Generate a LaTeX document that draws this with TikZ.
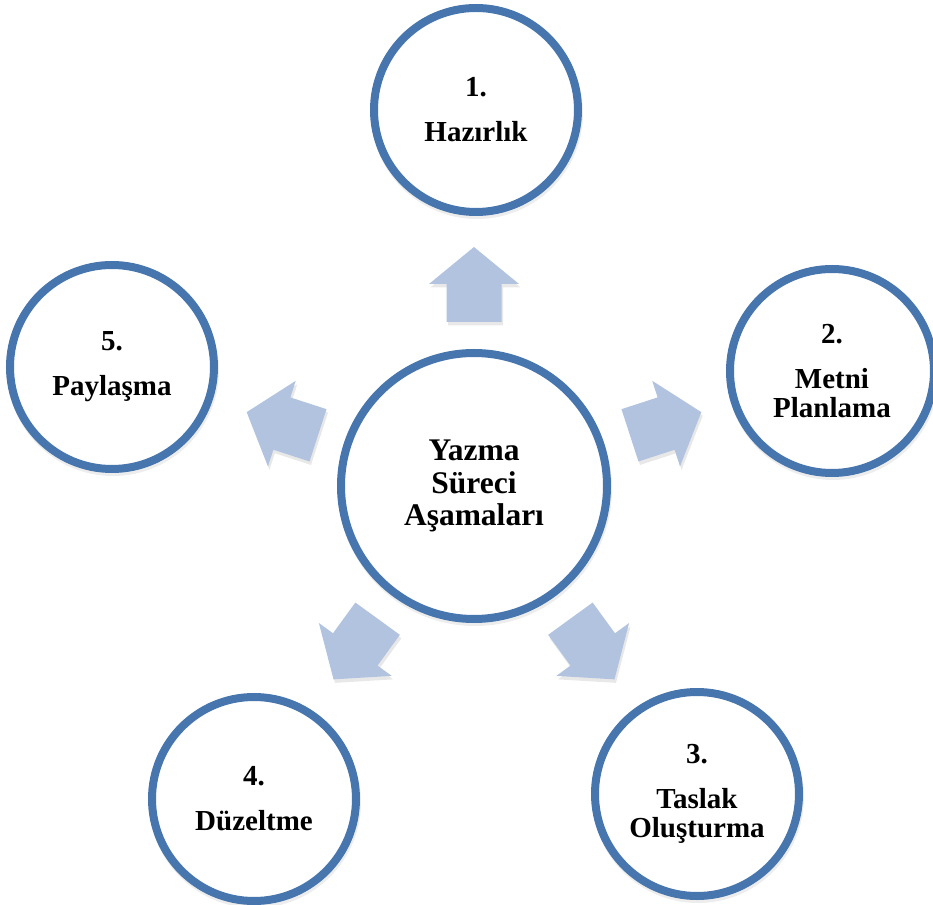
\documentclass[tikz,border=0pt]{standalone}
\usepackage{fontspec}
\setmainfont{Liberation Serif}
\usetikzlibrary{calc}
\definecolor{ringblue}{RGB}{71,117,173}
\definecolor{arrowblue}{RGB}{178,195,223}
\begin{document}
\begin{tikzpicture}[x=1pt,y=1pt,
  stage/.style={circle, draw=ringblue, line width=8pt, fill=white, minimum size=204pt,
    inner sep=0pt, align=center, font=\fontsize{29}{29}\selectfont\bfseries},
  hub/.style={stage, minimum size=266pt, font=\fontsize{31.5}{32.5}\selectfont\bfseries},
  blockarrow/.style={fill=arrowblue},
  arrowshadow/.style={fill=black, opacity=0.09},
  ringshadow/.style={fill=black, opacity=0.07}]
\useasboundingbox (-474,-418) rectangle (459,486);
% circle positions
\coordinate (p1) at (2,376);
\coordinate (p2) at (358,115);
\coordinate (p3) at (223,-308);
\coordinate (p4) at (-220,-313);
\coordinate (p5) at (-362,119);
% shadows of circles
\foreach \p in {p1,p2,p3,p4,p5}
  \fill[ringshadow] ($(\p)+(1,-3)$) circle (106);
\fill[ringshadow] (1,-3) circle (137);
% nodes
\node[hub] (c) at (0,0) {Yazma\\Süreci\\Aşamaları};
\node[stage] (s1) at (p1) {1.\\[16pt]Hazırlık};
\node[stage] (s2) at (p2) {2.\\[16pt]Metni\\Planlama};
\node[stage] (s3) at (p3) {3.\\[16pt]Taslak\\Oluşturma};
\node[stage] (s4) at (p4) {4.\\[16pt]Düzeltme};
\node[stage] (s5) at (p5) {5.\\[16pt]Paylaşma};
% block arrows from the hub towards each stage
\foreach \a in {90,18,-54,-126,162}{
  \fill[arrowshadow, shift={($(c.center)+(1.5,-3.5)$)}, rotate=\a]
    (164,-27.5) -- (202,-27.5) -- (202,-45) -- (239,0) -- (202,45) -- (202,27.5) -- (164,27.5) -- cycle;
  \fill[blockarrow, shift={(c.center)}, rotate=\a]
    (164,-27.5) -- (202,-27.5) -- (202,-45) -- (239,0) -- (202,45) -- (202,27.5) -- (164,27.5) -- cycle;
}
\end{tikzpicture}
\end{document}
